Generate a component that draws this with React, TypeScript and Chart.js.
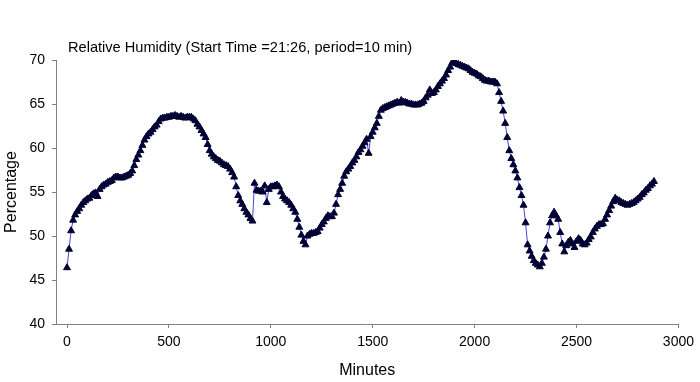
import React, { useEffect, useRef } from "react";
import { Chart, registerables } from "chart.js";

Chart.register(...registerables);

const TITLE = "Relative Humidity (Start Time =21:26, period=10 min)";
const X_LABEL = "Minutes";
const Y_LABEL = "Percentage";
const PERIOD_MIN = 10;
const X_TICKS = [0, 500, 1000, 1500, 2000, 2500, 3000];
const Y_MIN = 40;
const Y_MAX = 70;
const Y_STEP = 5;

// Relative humidity, one reading every 10 minutes (0 .. 2880 min)
const humidity = [
  46.4, 48.5, 50.6, 51.8, 52.4, 52.8, 53.1, 53.5, 53.8, 54.0,
  54.2, 54.3, 54.6, 54.8, 54.9, 54.5, 55.3, 55.6, 55.8, 55.9,
  56.1, 56.2, 56.3, 56.6, 56.7, 56.7, 56.6, 56.6, 56.7, 56.8,
  56.9, 57.1, 57.4, 58.0, 58.7, 59.2, 59.7, 60.3, 60.9, 61.3,
  61.6, 61.8, 62.1, 62.4, 62.6, 63.0, 63.3, 63.4, 63.4, 63.5,
  63.5, 63.6, 63.6, 63.7, 63.6, 63.5, 63.6, 63.5, 63.4, 63.5,
  63.5, 63.5, 63.3, 63.1, 62.7, 62.4, 62.0, 61.6, 61.2, 60.4,
  59.7, 59.3, 59.0, 58.8, 58.6, 58.5, 58.3, 58.1, 58.0, 57.9,
  57.6, 57.2, 56.7, 55.6, 54.6, 54.0, 53.6, 53.1, 52.7, 52.4,
  52.0, 51.7, 56.0, 55.2, 55.1, 55.1, 55.0, 55.7, 53.8, 55.3,
  55.6, 55.6, 55.7, 55.8, 55.6, 55.0, 54.5, 54.2, 54.0, 53.8,
  53.5, 53.1, 52.7, 51.9, 51.0, 50.1, 49.4, 49.0, 50.0, 50.2,
  50.3, 50.3, 50.4, 50.5, 50.9, 51.3, 51.6, 52.0, 52.3, 52.2,
  52.2, 52.6, 53.6, 54.7, 55.3, 56.0, 56.8, 57.3, 57.6, 57.9,
  58.3, 58.6, 59.0, 59.5, 59.8, 60.2, 60.6, 61.0, 59.4, 61.3,
  61.8, 62.3, 62.8, 63.6, 64.3, 64.5, 64.6, 64.7, 64.8, 64.9,
  65.0, 65.1, 65.2, 65.1, 65.4, 65.2, 65.2, 65.1, 65.0, 65.0,
  64.9, 64.9, 64.9, 65.0, 65.1, 65.3, 65.7, 66.0, 66.6, 66.2,
  66.3, 66.6, 67.0, 67.3, 67.6, 67.9, 68.3, 68.8, 69.2, 69.7,
  69.7, 69.6, 69.5, 69.4, 69.3, 69.2, 69.1, 69.0, 68.8, 68.6,
  68.5, 68.4, 68.2, 68.1, 67.9, 67.7, 67.6, 67.6, 67.5, 67.5,
  67.5, 67.3, 66.3, 65.3, 64.2, 62.8, 61.2, 59.7, 58.8, 58.1,
  57.4, 56.6, 55.5, 54.6, 53.5, 51.5, 49.0, 48.3, 47.7, 47.2,
  46.9, 46.7, 46.5, 46.9, 47.6, 48.5, 50.0, 51.5, 52.3, 52.7,
  52.3, 51.9, 50.4, 49.1, 48.2, 48.9, 49.3, 49.5, 49.1, 48.7,
  49.4, 49.7, 49.5, 49.1, 49.0, 49.2, 49.6, 49.9, 50.4, 50.8,
  51.1, 51.3, 51.3, 51.4, 51.9, 52.4, 52.9, 53.4, 53.9, 54.3,
  54.1, 54.0, 53.8, 53.7, 53.6, 53.5, 53.6, 53.7, 53.8, 54.0,
  54.2, 54.4, 54.7, 54.9, 55.2, 55.4, 55.7, 55.9, 56.2,
];

const FONT = "Arial, 'Liberation Sans', sans-serif";

export default function App() {
  const ref = useRef<HTMLCanvasElement | null>(null);

  useEffect(() => {
    document.body.style.margin = "0";
    const canvas = ref.current;
    if (!canvas) return;
    const points = humidity.map((y, i) => ({ x: i * PERIOD_MIN, y }));

    const titlePlugin = {
      id: "innerTitle",
      afterDraw(chart: any) {
        const { ctx, chartArea } = chart;
        ctx.save();
        ctx.font = `14.6px ${FONT}`;
        ctx.fillStyle = "#000";
        ctx.textAlign = "left";
        ctx.textBaseline = "middle";
        ctx.fillText(TITLE, chartArea.left + 12, chartArea.top - 12);
        ctx.restore();
      },
    };

    const chart = new Chart(canvas, {
      type: "scatter",
      data: {
        datasets: [
          {
            data: points,
            showLine: true,
            borderColor: "#4646d8",
            borderWidth: 1,
            pointStyle: "triangle",
            pointRadius: 4,
            pointBackgroundColor: "#000033",
            pointBorderColor: "#000033",
            pointBorderWidth: 1,
            tension: 0,
          },
        ],
      },
      options: {
        animation: false,
        responsive: false,
        maintainAspectRatio: false,
        layout: { padding: { top: 60, right: 21, left: 0, bottom: 0 } },
        plugins: {
          legend: { display: false },
          tooltip: { enabled: false },
        },
        scales: {
          x: {
            type: "linear",
            min: -54,
            max: 3000,
            afterBuildTicks: (scale: any) => {
              scale.ticks = X_TICKS.map((v) => ({ value: v }));
            },
            afterFit: (scale: any) => {
              scale.height = 58;
            },
            grid: {
              drawOnChartArea: false,
              drawTicks: true,
              tickLength: 4,
              color: "#808080",
            },
            border: { display: true, color: "#808080", width: 1 },
            ticks: {
              padding: 6,
              color: "#000",
              font: { family: FONT, size: 14 },
              maxRotation: 0,
              autoSkip: false,
              callback: (v: any) => String(v),
            },
            title: {
              display: true,
              text: X_LABEL,
              color: "#000",
              font: { family: FONT, size: 16 },
              padding: { top: 0, bottom: 2 },
            },
          },
          y: {
            type: "linear",
            min: Y_MIN,
            max: Y_MAX,
            afterFit: (scale: any) => {
              scale.width = 56;
            },
            grid: {
              drawOnChartArea: false,
              drawTicks: true,
              tickLength: 4,
              color: "#808080",
            },
            border: { display: true, color: "#808080", width: 1 },
            ticks: {
              stepSize: Y_STEP,
              padding: 7,
              color: "#000",
              font: { family: FONT, size: 14 },
              callback: (v: any) => String(v),
            },
            title: {
              display: true,
              text: Y_LABEL,
              color: "#000",
              font: { family: FONT, size: 16 },
              padding: { top: 2, bottom: 0 },
            },
          },
        },
      },
      plugins: [titlePlugin],
    });
    return () => chart.destroy();
  }, []);

  return (
    <div style={{ width: 700, height: 382 }}>
      <canvas ref={ref} width={700} height={382} style={{ display: "block" }} />
    </div>
  );
}
